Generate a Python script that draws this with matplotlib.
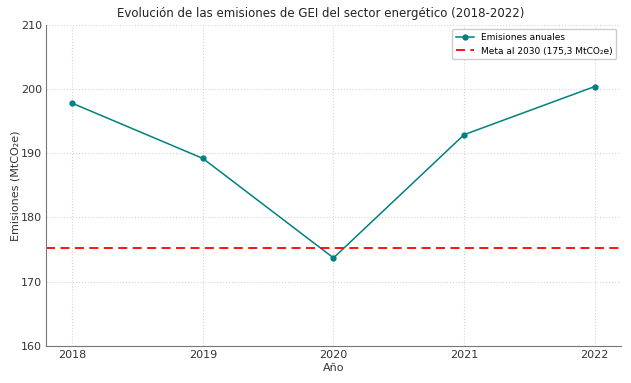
import numpy as np
import matplotlib.pyplot as plt

# Datos
anios = [2018, 2019, 2020, 2021, 2022]
emisiones = [197.8, 189.2, 173.7, 192.9, 200.4]
meta_2030 = 175.3

fig, ax = plt.subplots(figsize=(6.31, 3.83), dpi=100)
fig.subplots_adjust(left=0.073, right=0.984, top=0.935, bottom=0.097)

ax.plot(anios, emisiones, color='#008080', marker='o', markersize=3.5,
        linewidth=1.1, label='Emisiones anuales')
ax.axhline(meta_2030, color='red', linestyle='--', linewidth=1.3,
           dashes=(5, 3), label='Meta al 2030 (175,3 MtCO₂e)')

ax.set_ylim(160, 210)
ax.set_xticks(anios)
ax.tick_params(labelsize=8, colors='#333333', length=0, pad=3)
ax.set_title('Evolución de las emisiones de GEI del sector energético (2018-2022)',
             fontsize=8.5, color='#222222', pad=6, x=0.477)
ax.set_xlabel('Año', fontsize=8, color='#333333', labelpad=2)
ax.set_ylabel('Emisiones (MtCO₂e)', fontsize=8, color='#333333')
ax.yaxis.set_label_coords(-0.045, 0.5)
ax.grid(True, linestyle=':', color='#d5d5d5', linewidth=0.8)

for s in ['top', 'right']:
    ax.spines[s].set_visible(False)
for s in ['left', 'bottom']:
    ax.spines[s].set_color('#777777')

ax.legend(fontsize=6.5, loc='upper right', framealpha=1, edgecolor='#cccccc')

plt.savefig('out.png', dpi=100)
